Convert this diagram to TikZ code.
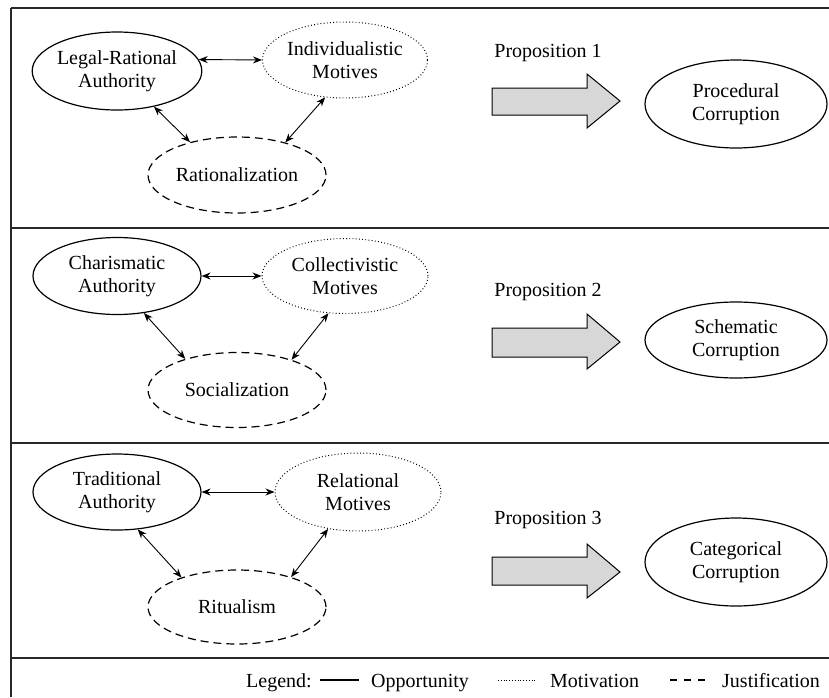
\documentclass[tikz,border=0pt]{standalone}
\usepackage{fontspec}
\setmainfont{Liberation Serif}
\usetikzlibrary{shapes.geometric,arrows.meta}
\definecolor{arrowgray}{RGB}{215,215,215}
\definecolor{framegray}{RGB}{40,40,40}
\tikzset{
  base/.style={ellipse,inner sep=0pt,align=center,line width=1.2pt,
    font=\fontsize{20}{23}\selectfont},
  opp/.style={base,draw},
  mot/.style={base,draw,line width=1pt,dash pattern=on 0.9pt off 2.3pt},
  jus/.style={base,draw,dash pattern=on 8pt off 5pt},
  link/.style={line width=0.9pt,{Stealth[length=9pt,width=7pt]}-{Stealth[length=9pt,width=7pt]}},
  frame/.style={line width=1.8pt,draw=framegray},
  txt/.style={inner sep=0pt,font=\fontsize{20}{23}\selectfont},
  bigarrow/.style={draw,line width=1pt,fill=arrowgray,line join=miter}
}
\begin{document}
\begin{tikzpicture}[x=1pt,y=-1pt]
\useasboundingbox (0,0) rectangle (829,697);
% frame
\draw[frame] (11,8) -- (11,697);
\draw[frame] (11,8) -- (829,8);
\draw[frame] (11,228) -- (829,228);
\draw[frame] (11,443) -- (829,443);
\draw[frame] (11,658) -- (829,658);

% ---------- panel 1
\node[opp,minimum width=168pt,minimum height=78pt] (LR) at (117,71) {Legal-Rational\\Authority};
\node[mot,minimum width=165pt,minimum height=76pt] (IM) at (345,60) {Individualistic\\Motives};
\node[jus,minimum width=178pt,minimum height=76pt] (RA) at (237,175) {Rationalization};
\draw[link] (LR.8) -- (IM.west);
\draw[link] (LR.-44) -- (RA.145);
\draw[link] (IM.-118) -- (RA.34);
\node[txt] (P1) at (548,53) {Proposition 1};
\draw[bigarrow] (492,88) -- (587,88) -- (587,74) -- (620,101) -- (587,128) -- (587,115) -- (492,115) -- cycle;
\node[opp,minimum width=182pt,minimum height=88pt] (PC) at (736,104) {Procedural\\Corruption};

% ---------- panel 2
\node[opp,minimum width=168pt,minimum height=77pt] (CA) at (117,276) {Charismatic\\Authority};
\node[mot,minimum width=166pt,minimum height=75pt] (CM) at (345,276) {Collectivistic\\Motives};
\node[jus,minimum width=178pt,minimum height=75pt] (SO) at (237,390) {Socialization};
\draw[link] (CA.east) -- (CM.west);
\draw[link] (CA.-54) -- (SO.149);
\draw[link] (CM.-114) -- (SO.29);
\node[txt] (P2) at (548,292) {Proposition 2};
\draw[bigarrow] (492,328) -- (587,328) -- (587,314) -- (620,342) -- (587,369) -- (587,357) -- (492,357) -- cycle;
\node[opp,minimum width=182pt,minimum height=76pt] (SC) at (736,340) {Schematic\\Corruption};

% ---------- panel 3
\node[opp,minimum width=168pt,minimum height=76pt] (TA) at (117,492) {Traditional\\Authority};
\node[mot,minimum width=166pt,minimum height=78pt] (RM) at (358,492) {Relational\\Motives};
\node[jus,minimum width=178pt,minimum height=74pt] (RI) at (237,607) {Ritualism};
\draw[link] (TA.east) -- (RM.west);
\draw[link] (TA.-61) -- (RI.152);
\draw[link] (RM.-129) -- (RI.29);
\node[txt] (P3) at (548,520) {Proposition 3};
\draw[bigarrow] (492,557) -- (587,557) -- (587,544) -- (620,572) -- (587,598) -- (587,585) -- (492,585) -- cycle;
\node[opp,minimum width=182pt,minimum height=88pt] (CC) at (736,562) {Categorical\\Corruption};

% ---------- legend
\node[txt,anchor=base west] (LG) at (246,687) {Legend:};
\coordinate (l1a) at (320,680); \coordinate (l1b) at (359,680);
\draw[line width=1.1pt] (l1a) -- (l1b);
\node[txt,anchor=base west] (LO) at (371,687) {Opportunity};
\coordinate (l2a) at (498,680); \coordinate (l2b) at (536,680);
\draw[line width=0.8pt,dash pattern=on 0.8pt off 2pt] (l2a) -- (l2b);
\node[txt,anchor=base west] (LM) at (550,687) {Motivation};
\coordinate (l3a) at (670,680); \coordinate (l3b) at (705,680);
\draw[line width=1.1pt,dash pattern=on 7pt off 7pt] (l3a) -- (l3b);
\node[txt,anchor=base west] (LJ) at (722,687) {Justification};
\end{tikzpicture}
\end{document}
